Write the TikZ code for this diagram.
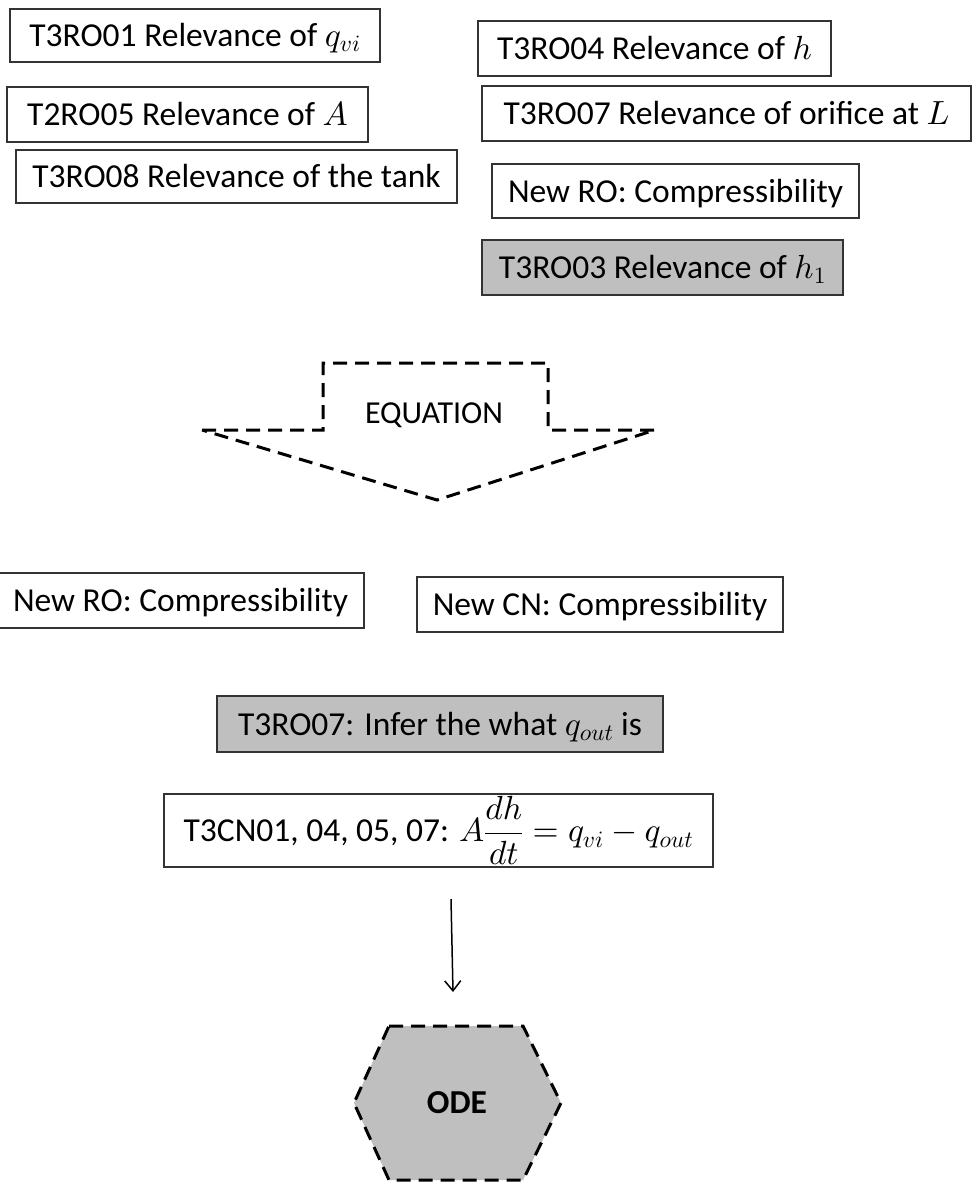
\documentclass[tikz,border=0pt]{standalone}
\usepackage{amsmath}
\usepackage{fontspec}
\setmainfont{Carlito}
\usetikzlibrary{arrows.meta}
% scalable math fonts
\DeclareFontShape{OML}{cmm}{m}{it}{<->cmmi10}{}
\DeclareFontShape{OMS}{cmsy}{m}{n}{<->cmsy10}{}
\DeclareFontShape{OT1}{cmr}{m}{n}{<->cmr10}{}

\tikzset{
  rbox/.style 2 args={draw=black!80, line width=1.2pt, inner sep=0pt,
    minimum width=#1pt, minimum height=#2pt, text height=30pt, text depth=8pt},
  ebox/.style 2 args={draw=black!80, line width=1.2pt, inner sep=0pt,
    minimum width=#1pt, minimum height=#2pt},
  grey/.style={fill=gray!50},
  dashline/.style={draw=black, line width=3pt, dash pattern=on 14pt off 8pt},
}

\begin{document}
\begin{tikzpicture}[x=1pt, y=-1pt, font=\fontsize{33.5}{40}\selectfont]
 \useasboundingbox (0,0) rectangle (972,1183);
 % relevance boxes, left column
 \node (ro01) [rbox={370}{53}] at (195,35.5) {T3RO01 Relevance of $q_{vi}$\hspace{18pt}};
 \node (ro05) [rbox={361}{55}] at (187.5,114.5) {T2RO05 Relevance of $A$\hspace{26pt}};
 \node (ro08) [rbox={441}{53}] at (236.5,176.5) {T3RO08 Relevance of the tank\hspace{14pt}};
 % relevance boxes, right column
 \node (ro04) [rbox={353}{55}] at (654.5,48.5) {T3RO04 Relevance of $h$\hspace{12pt}};
 \node (ro07) [rbox={489}{55}] at (726.5,113.5) {T3RO07 Relevance of orifice at $L$\hspace{18pt}};
 \node (roc) [rbox={367}{54}] at (675.5,191) {New RO: Compressibility};
 \node (ro03) [rbox={361}{55}, grey] at (662.5,267.5) {T3RO03 Relevance of $h_1$\hspace{6pt}};

 % equation arrow
 \draw[dashline, line join=miter] (202,430) -- (323,430) -- (323,363) -- (548,363)
   -- (548,430) -- (655,430) -- (437,500) -- cycle;
 \node (eq) [font=\fontsize{32}{38}\selectfont] at (434,415) {EQUATION};

 % results
 \node (nro) [rbox={367}{55}] at (180.5,600.5) {New RO: Compressibility};
 \node (ncn) [rbox={366}{55}] at (600,604.5) {New CN: Compressibility};
 \node (qout) [rbox={446}{56}, grey] at (440,724) {T3RO07: Infer the what $q_{out}$ is\hspace{13pt}};
 \node (cn) [ebox={549}{73}] at (438.5,830.5) {T3CN01, 04, 05, 07: $A\dfrac{dh}{dt}=q_{vi}-q_{out}$};

 % ODE
 \filldraw[dashline, fill=gray!50] (389,1026) -- (523,1026) -- (561,1103) -- (523,1180)
   -- (389,1180) -- (354,1103) -- cycle;
 \node (ode) at (457,1103) {\bfseries ODE};
 \coordinate (a1) at (451,899);
 \coordinate (a2) at (453,992);
 \draw[line width=1.5pt, -{Straight Barb[length=10pt, width=16pt]}] (a1) -- (a2);
\end{tikzpicture}
\end{document}
